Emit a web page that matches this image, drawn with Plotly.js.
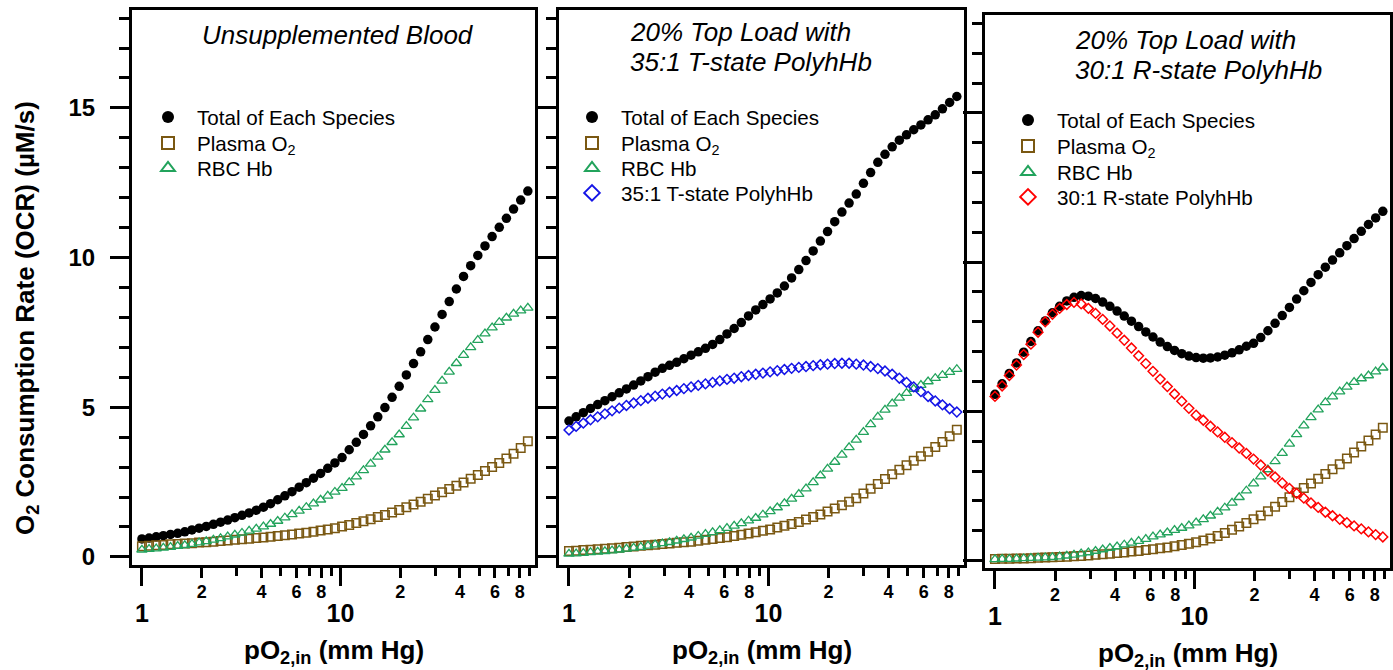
<!DOCTYPE html>
<html><head><meta charset="utf-8">
<script src="https://cdn.plot.ly/plotly-3.0.1.min.js"></script>
<style>html,body{margin:0;padding:0;background:#fff;}#chart{width:1393px;height:670px;}</style>
</head><body><div id="chart"></div>
<script>
// ---------- data ----------
const pO2 = [1.000,1.086,1.180,1.282,1.393,1.514,1.644,1.786,1.941,2.109,2.291,2.489,2.704,2.938,3.192,3.467,3.767,4.093,4.446,4.831,5.248,5.702,6.194,6.730,7.311,7.943,8.630,9.376,10.19,11.07,12.02,13.06,14.19,15.42,16.75,18.20,19.77,21.48,23.34,25.35,27.54,29.92,32.51,35.32,38.37,41.69,45.29,49.20,53.46,58.08,63.10,68.55,74.47,80.91,87.90];

// Panel 1: Unsupplemented Blood
const blood_total = [0.60,0.63,0.67,0.71,0.75,0.79,0.84,0.90,0.96,1.02,1.09,1.16,1.23,1.31,1.39,1.47,1.56,1.66,1.78,1.91,2.04,2.18,2.33,2.48,2.63,2.79,2.96,3.14,3.32,3.58,3.83,4.09,4.38,4.68,4.99,5.33,5.70,6.08,6.46,6.85,7.26,7.68,8.10,8.53,8.95,9.37,9.73,10.07,10.39,10.70,11.01,11.31,11.62,11.92,12.22];
const blood_plasma = [0.36,0.37,0.39,0.40,0.42,0.43,0.45,0.46,0.48,0.49,0.51,0.53,0.55,0.57,0.59,0.61,0.63,0.65,0.67,0.70,0.72,0.75,0.78,0.81,0.84,0.88,0.92,0.96,1.02,1.07,1.13,1.19,1.26,1.33,1.40,1.48,1.57,1.66,1.75,1.84,1.94,2.05,2.16,2.27,2.38,2.49,2.61,2.74,2.87,3.00,3.14,3.29,3.45,3.64,3.86];
const blood_rbc = [0.24,0.26,0.28,0.30,0.33,0.36,0.39,0.43,0.48,0.52,0.57,0.62,0.68,0.74,0.80,0.87,0.94,1.01,1.10,1.20,1.31,1.42,1.54,1.66,1.78,1.91,2.04,2.17,2.30,2.49,2.68,2.89,3.11,3.34,3.58,3.83,4.09,4.37,4.65,4.95,5.26,5.57,5.88,6.18,6.47,6.74,7.00,7.24,7.46,7.66,7.84,7.99,8.12,8.23,8.32];

// Panel 2: 20% top load with 35:1 T-state PolyhHb
const tload_total = [4.54,4.68,4.82,4.96,5.09,5.22,5.35,5.48,5.61,5.74,5.88,6.02,6.17,6.30,6.40,6.50,6.62,6.74,6.85,6.97,7.10,7.26,7.45,7.63,7.83,8.05,8.25,8.43,8.62,8.82,9.05,9.32,9.60,9.90,10.22,10.55,10.87,11.20,11.52,11.82,12.12,12.48,12.84,13.18,13.45,13.70,13.92,14.10,14.27,14.43,14.60,14.77,14.97,15.18,15.38];
const tload_plasma = [0.20,0.21,0.23,0.24,0.26,0.27,0.29,0.31,0.33,0.35,0.37,0.39,0.41,0.43,0.45,0.47,0.49,0.51,0.54,0.57,0.60,0.63,0.66,0.70,0.74,0.78,0.82,0.87,0.92,0.98,1.04,1.10,1.17,1.25,1.33,1.42,1.52,1.62,1.73,1.84,1.96,2.12,2.28,2.44,2.60,2.76,2.91,3.06,3.21,3.36,3.51,3.67,3.84,4.03,4.25];
const tload_rbc = [0.10,0.11,0.13,0.15,0.17,0.19,0.21,0.24,0.27,0.30,0.33,0.37,0.41,0.45,0.49,0.54,0.59,0.64,0.70,0.76,0.82,0.89,0.96,1.04,1.12,1.21,1.30,1.41,1.52,1.65,1.79,1.94,2.10,2.28,2.49,2.72,2.94,3.17,3.41,3.66,3.91,4.17,4.43,4.68,4.91,5.12,5.31,5.47,5.61,5.74,5.86,5.97,6.07,6.17,6.27];
const tload_poly = [4.24,4.36,4.47,4.58,4.68,4.78,4.88,4.97,5.06,5.14,5.22,5.30,5.37,5.44,5.50,5.56,5.62,5.68,5.73,5.78,5.83,5.88,5.93,5.97,6.02,6.06,6.10,6.14,6.18,6.22,6.26,6.30,6.33,6.36,6.39,6.42,6.44,6.46,6.47,6.47,6.44,6.41,6.36,6.29,6.21,6.10,5.97,5.83,5.68,5.52,5.36,5.21,5.08,4.95,4.84];

// Panel 3: 20% top load with 30:1 R-state PolyhHb
const rload_total = [5.57,5.92,6.27,6.62,6.98,7.34,7.70,8.03,8.30,8.52,8.70,8.82,8.88,8.86,8.78,8.66,8.52,8.36,8.19,8.02,7.84,7.66,7.49,7.32,7.17,7.04,6.93,6.85,6.80,6.78,6.79,6.82,6.88,6.96,7.06,7.18,7.28,7.47,7.70,7.95,8.21,8.48,8.76,9.04,9.32,9.58,9.83,10.07,10.31,10.55,10.79,11.03,11.26,11.48,11.70];
const rload_plasma = [0.05,0.06,0.06,0.07,0.07,0.08,0.09,0.10,0.11,0.12,0.13,0.14,0.15,0.17,0.19,0.21,0.23,0.25,0.27,0.30,0.32,0.35,0.38,0.41,0.44,0.48,0.52,0.56,0.61,0.67,0.74,0.82,0.92,1.03,1.14,1.26,1.38,1.51,1.65,1.80,1.96,2.12,2.28,2.43,2.58,2.74,2.90,3.06,3.23,3.42,3.62,3.82,4.02,4.22,4.45];
const rload_rbc = [0.04,0.05,0.05,0.06,0.07,0.08,0.09,0.10,0.11,0.13,0.16,0.19,0.23,0.27,0.32,0.37,0.42,0.47,0.53,0.59,0.65,0.72,0.80,0.87,0.94,1.02,1.09,1.17,1.27,1.38,1.50,1.63,1.77,1.93,2.12,2.34,2.58,2.81,3.05,3.32,3.60,3.91,4.23,4.52,4.80,5.06,5.30,5.49,5.66,5.82,5.98,6.10,6.20,6.33,6.46];
const rload_poly = [5.50,5.85,6.20,6.55,6.90,7.25,7.65,8.00,8.25,8.45,8.58,8.65,8.60,8.45,8.28,8.08,7.86,7.62,7.38,7.12,6.86,6.60,6.34,6.08,5.83,5.58,5.34,5.10,4.87,4.70,4.50,4.31,4.13,3.95,3.77,3.59,3.40,3.20,3.00,2.80,2.60,2.42,2.25,2.09,1.93,1.78,1.62,1.50,1.38,1.27,1.16,1.06,0.96,0.87,0.79];

// labels and ticks
const panelTitles = [["Unsupplemented Blood"], ["20% Top Load with", "35:1 T-state PolyhHb"], ["20% Top Load with", "30:1 R-state PolyhHb"]];
const seriesNames = ["Total of Each Species", "Plasma O<sub>2</sub>", "RBC Hb"];
const polyNames = ["35:1 T-state PolyhHb", "30:1 R-state PolyhHb"];
const yTitle = "O<sub>2</sub> Consumption Rate (OCR) (µM/s)";
const xTitle = "pO<sub>2,in</sub> (mm Hg)";
const xMajorVals = [1, 10];
const xMajorText = ["1", "10"];
const xLabelVals = [2,4,6,8,20,40,60,80];
const xLabelText = ["2","4","6","8","2","4","6","8"];
const xOddVals = [3,5,7,9,30,50,70,90];

// ---------- styling / layout ----------
const W = 1393, H = 670;
const FONT = "Liberation Sans, Arial, Helvetica, sans-serif";
const px = v => v / W;
const py = v => 1 - v / H;

const sty = {
  total:  {symbol: "circle", size: 9.5, color: "#000000"},
  plasma: {symbol: "square-open", size: 8.5, color: "#7a5812", line: {width: 1.5}},
  rbc:    {symbol: "triangle-up-open", size: 9, color: "#22a35c", line: {width: 1.3}},
  tpoly:  {symbol: "diamond-open", size: 7.5, color: "#1414e6", line: {width: 1.5}},
  rpoly:  {symbol: "diamond-open", size: 7.5, color: "#ff0000", line: {width: 1.5}}
};

let legendCount = 0;
const legendDefs = {};
function tr(x, y, name, marker, ax, legPos) {
  legendCount++;
  const key = legendCount === 1 ? "legend" : "legend" + legendCount;
  legendDefs[key] = legPos;
  return {type: "scatter", mode: "markers", x: x, y: y, name: name, marker: marker,
          xaxis: ax[0], yaxis: ax[1], legend: key, showlegend: true, hoverinfo: "skip"};
}

// legend row positions (pixels: marker centre x, row centre y)
const legRows1 = [[168,117],[168,143],[168,168]];
const legRows2 = [[592,117],[592,143],[592,168],[592,193]];
const legRows3 = [[1028,120],[1028,146],[1028,172],[1028,197]];

const traces = [
  tr(pO2, blood_total,  seriesNames[0], sty.total,  ["x","y"], legRows1[0]),
  tr(pO2, blood_plasma, seriesNames[1], sty.plasma, ["x","y"], legRows1[1]),
  tr(pO2, blood_rbc,    seriesNames[2], sty.rbc,    ["x","y"], legRows1[2]),
  tr(pO2, tload_total,  seriesNames[0], sty.total,  ["x2","y2"], legRows2[0]),
  tr(pO2, tload_plasma, seriesNames[1], sty.plasma, ["x2","y2"], legRows2[1]),
  tr(pO2, tload_rbc,    seriesNames[2], sty.rbc,    ["x2","y2"], legRows2[2]),
  tr(pO2, tload_poly,   polyNames[0],   sty.tpoly,  ["x2","y2"], legRows2[3]),
  tr(pO2, rload_total,  seriesNames[0], sty.total,  ["x3","y3"], legRows3[0]),
  tr(pO2, rload_plasma, seriesNames[1], sty.plasma, ["x3","y3"], legRows3[1]),
  tr(pO2, rload_rbc,    seriesNames[2], sty.rbc,    ["x3","y3"], legRows3[2]),
  tr(pO2, rload_poly,   polyNames[1],   sty.rpoly,  ["x3","y3"], legRows3[3])
];
// invisible helper traces so the overlaid tick axes get drawn
[["x4","y",blood_total],["x5","y2",tload_total],["x6","y3",rload_total],
 ["x7","y",blood_total],["x8","y2",tload_total],["x9","y3",rload_total]].forEach(([xa, ya, yv]) => {
  traces.push({type: "scatter", mode: "markers", x: pO2, y: yv, xaxis: xa, yaxis: ya,
               marker: {opacity: 0, size: 1}, showlegend: false, hoverinfo: "skip"});
});

const ITEMW = 48;
const legendLayout = {};
Object.keys(legendDefs).forEach(k => {
  const [cx, cy] = legendDefs[k];
  legendLayout[k] = {
    x: px(cx - (5 + ITEMW / 2)), y: py(cy), xanchor: "left", yanchor: "middle",
    xref: "paper", yref: "paper", visible: true,
    bgcolor: "rgba(0,0,0,0)", borderwidth: 0,
    font: {family: FONT, size: 20.6, color: "#000"},
    itemsizing: "constant", itemwidth: ITEMW, itemclick: false, itemdoubleclick: false
  };
});

const XR = [-0.05, 1.98];
function xMain(dom, anchor) {
  return {
    type: "log", range: XR, domain: dom, autorange: false, anchor: anchor,
    tickmode: "array", tickvals: xLabelVals, ticktext: xLabelText,
    ticks: "outside", ticklen: 10, tickwidth: 3, tickcolor: "#000",
    tickfont: {family: FONT, size: 18, color: "#000", weight: "bold"}, ticklabelstandoff: -2,
    showline: true, linewidth: 3, linecolor: "#000", mirror: true,
    showgrid: false, zeroline: false, fixedrange: true
  };
}
function xMajor(over, anchor) {
  return {
    type: "log", range: XR, autorange: false, overlaying: over, anchor: anchor, side: "bottom",
    tickmode: "array", tickvals: xMajorVals, ticktext: xMajorText,
    ticks: "outside", ticklen: 20, tickwidth: 3, tickcolor: "#000",
    tickfont: {family: FONT, size: 25, color: "#000", weight: "bold"}, ticklabelstandoff: 6,
    showline: false, showgrid: false, zeroline: false, fixedrange: true
  };
}
function xOdd(over, anchor) {
  return {
    type: "log", range: XR, autorange: false, overlaying: over, anchor: anchor, side: "bottom",
    tickmode: "array", tickvals: xOddVals, showticklabels: false,
    ticks: "outside", ticklen: 10, tickwidth: 3, tickcolor: "#000",
    showline: false, showgrid: false, zeroline: false, fixedrange: true
  };
}
function yAx(dom, range, labels, anchor) {
  return {
    range: range, domain: dom, autorange: false, anchor: anchor,
    tickmode: "linear", tick0: 0, dtick: 5,
    ticks: "outside", ticklen: 19, tickwidth: 3, tickcolor: "#000",
    showticklabels: labels,
    tickfont: {family: FONT, size: 24, color: "#000", weight: "bold"}, ticklabelstandoff: 10,
    showline: true, linewidth: 3, linecolor: "#000", mirror: true,
    showgrid: false, zeroline: false, fixedrange: true,
    minor: {tick0: 0, dtick: 1, ticks: "outside", ticklen: 10, tickwidth: 3, tickcolor: "#000", showgrid: false}
  };
}

const dom1x = [px(132), px(535)], dom2x = [px(559), px(964)], dom3x = [px(985), px(1390)];
const domY12 = [py(565), py(10)], domY3 = [py(568), py(15)];

const ann = [];
const titleFont = {family: FONT, size: 26, color: "#000"};
ann.push({text: "<i>" + panelTitles[0][0] + "</i>", x: px(338), y: py(35), xanchor: "center", yanchor: "middle"});
ann.push({text: "<i>" + panelTitles[1][0] + "</i>", x: px(628), y: py(32), xanchor: "left", yanchor: "middle"});
ann.push({text: "<i>" + panelTitles[1][1] + "</i>", x: px(628), y: py(62), xanchor: "left", yanchor: "middle"});
ann.push({text: "<i>" + panelTitles[2][0] + "</i>", x: px(1073), y: py(40), xanchor: "left", yanchor: "middle"});
ann.push({text: "<i>" + panelTitles[2][1] + "</i>", x: px(1073), y: py(70), xanchor: "left", yanchor: "middle"});
ann.forEach(a => { a.font = titleFont; });
const boldFont = {family: FONT, size: 26, color: "#000", weight: "bold"};
ann.push({text: yTitle, x: px(26), y: py(318), textangle: -90, xanchor: "center", yanchor: "middle", font: boldFont});
[[333.5, 651], [761.5, 651], [1187.5, 654]].forEach(([cx, cy]) => {
  ann.push({text: xTitle, x: px(cx), y: py(cy), xanchor: "center", yanchor: "middle", font: boldFont});
});
ann.forEach(a => { a.xref = "paper"; a.yref = "paper"; a.showarrow = false; });

const layout = Object.assign({
  width: W, height: H,
  margin: {l: 0, r: 0, t: 0, b: 0, pad: 0},
  paper_bgcolor: "#ffffff", plot_bgcolor: "#ffffff",
  font: {family: FONT, color: "#000"},
  hovermode: false, showlegend: true,
  xaxis: xMain(dom1x, "y"), yaxis: yAx(domY12, [-0.27, 18.27], true, "x"),
  xaxis2: xMain(dom2x, "y2"), yaxis2: yAx(domY12, [-0.27, 18.27], false, "x2"),
  xaxis3: xMain(dom3x, "y3"), yaxis3: yAx(domY3, [-0.25, 18.28], false, "x3"),
  xaxis4: xMajor("x", "y"), xaxis5: xMajor("x2", "y2"), xaxis6: xMajor("x3", "y3"),
  xaxis7: xOdd("x", "y"), xaxis8: xOdd("x2", "y2"), xaxis9: xOdd("x3", "y3"),
  annotations: ann
}, legendLayout);

Plotly.newPlot("chart", traces, layout, {displayModeBar: false, staticPlot: true});
</script>
</body></html>
